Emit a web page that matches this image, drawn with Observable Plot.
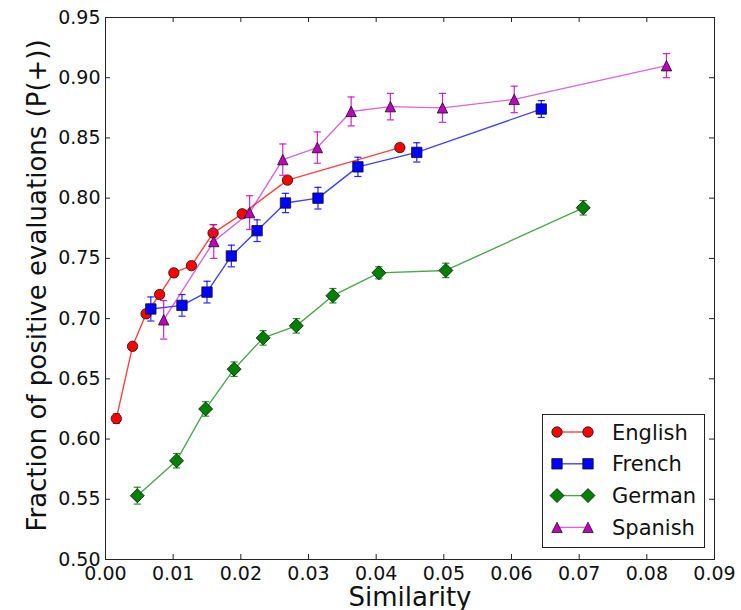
<!DOCTYPE html>
<html><head><meta charset="utf-8">
<script src="https://cdn.jsdelivr.net/npm/d3@7"></script>
<script src="https://cdn.jsdelivr.net/npm/@observablehq/plot@0.6"></script>
<style>
body{margin:0;background:#fff;font-family:"DejaVu Sans",sans-serif}
#wrap{position:relative;width:741px;height:610px}
#legend{position:absolute;left:542px;top:414px;width:163px;height:134px;box-sizing:border-box;border:1px solid #222;background:#fff}
</style>
</head><body><div id="wrap"></div>
<script>
const languages = ["English", "French", "German", "Spanish"];
const colors = ["#ff0000", "#0000ff", "#008000", "#bf00bf"];

const englishX = [0.0016, 0.0040, 0.0060, 0.0080, 0.0101, 0.0127, 0.0159, 0.0202, 0.0269, 0.0435];
const englishY = [0.617, 0.677, 0.704, 0.720, 0.738, 0.744, 0.771, 0.787, 0.815, 0.842];
const englishErr = [0.004, 0.003, 0.003, 0.003, 0.003, 0.003, 0.007, 0.003, 0.003, 0.003];

const frenchX = [0.0067, 0.0113, 0.0150, 0.0186, 0.0224, 0.0266, 0.0314, 0.0373, 0.0460, 0.0644];
const frenchY = [0.708, 0.711, 0.722, 0.752, 0.773, 0.796, 0.800, 0.826, 0.838, 0.874];
const frenchErr = [0.010, 0.009, 0.009, 0.009, 0.009, 0.008, 0.009, 0.008, 0.008, 0.007];

const germanX = [0.0047, 0.0105, 0.0148, 0.0190, 0.0233, 0.0282, 0.0336, 0.0404, 0.0503, 0.0706];
const germanY = [0.553, 0.582, 0.625, 0.658, 0.684, 0.694, 0.719, 0.738, 0.740, 0.792];
const germanErr = [0.007, 0.006, 0.006, 0.006, 0.006, 0.006, 0.006, 0.005, 0.006, 0.006];

const spanishX = [0.0086, 0.0160, 0.0213, 0.0262, 0.0313, 0.0363, 0.0421, 0.0498, 0.0604, 0.0829];
const spanishY = [0.699, 0.764, 0.788, 0.832, 0.842, 0.872, 0.876, 0.875, 0.882, 0.910];
const spanishErr = [0.016, 0.014, 0.014, 0.013, 0.013, 0.012, 0.011, 0.012, 0.011, 0.010];

const xTicks = [0, 0.01, 0.02, 0.03, 0.04, 0.05, 0.06, 0.07, 0.08, 0.09];
const yTicks = [0.50, 0.55, 0.60, 0.65, 0.70, 0.75, 0.80, 0.85, 0.90, 0.95];
const xLabel = "Similarity";
const yLabel = "Fraction of positive evaluations (P(+))";

// matplotlib-like marker shapes (h = half size)
const mk = f => ({draw(ctx, size) { const h = Math.sqrt(size / Math.PI); f(ctx, h); }});
const symCircle = mk((c, h) => { c.moveTo(h, 0); c.arc(0, 0, h, 0, 2 * Math.PI); c.closePath(); });
const symSquare = mk((c, h) => { c.moveTo(-h, -h); c.lineTo(h, -h); c.lineTo(h, h); c.lineTo(-h, h); c.closePath(); });
const symDiamond = mk((c, h) => { c.moveTo(0, -h); c.lineTo(h, 0); c.lineTo(0, h); c.lineTo(-h, 0); c.closePath(); });
const symTriangle = mk((c, h) => { c.moveTo(0, -h); c.lineTo(h, h); c.lineTo(-h, h); c.closePath(); });
const symCap = mk((c, h) => { c.moveTo(-h, 0); c.lineTo(h, 0); });

const series = [
  {name: languages[0], color: colors[0], xs: englishX, ys: englishY, es: englishErr, sym: symCircle, r: 5.2, lineOp: 0.75},
  {name: languages[1], color: colors[1], xs: frenchX, ys: frenchY, es: frenchErr, sym: symSquare, r: 5.2, lineOp: 0.75},
  {name: languages[2], color: colors[2], xs: germanX, ys: germanY, es: germanErr, sym: symDiamond, r: 7, lineOp: 0.7},
  {name: languages[3], color: colors[3], xs: spanishX, ys: spanishY, es: spanishErr, sym: symTriangle, r: 5.2, lineOp: 0.6}
];
series.forEach(s => { s.rows = s.xs.map((x, i) => ({x, y: s.ys[i], e: s.es[i]})); });

const W = 741, H = 610, mL = 105, mR = 27, mT = 17, mB = 51;
const innerW = W - mL - mR, innerH = H - mT - mB, tl = 5;

const marks = [];
for (const s of series) {
  marks.push(Plot.line(s.rows, {x: "x", y: "y", stroke: s.color, strokeWidth: 1.4, strokeOpacity: s.lineOp}));
  marks.push(Plot.ruleX(s.rows, {x: "x", y1: d => d.y - d.e, y2: d => d.y + d.e, stroke: s.color, strokeWidth: 1.2, strokeOpacity: 0.85}));
  marks.push(Plot.dot(s.rows, {x: "x", y: d => d.y - d.e, symbol: symCap, r: 3.6, fill: "none", stroke: s.color, strokeWidth: 1.2, strokeOpacity: 0.85}));
  marks.push(Plot.dot(s.rows, {x: "x", y: d => d.y + d.e, symbol: symCap, r: 3.6, fill: "none", stroke: s.color, strokeWidth: 1.2, strokeOpacity: 0.85}));
  marks.push(Plot.dot(s.rows, {x: "x", y: "y", symbol: s.sym, r: s.r, fill: s.color, stroke: "#111", strokeWidth: 0.8}));
}

const chart = Plot.plot({
  width: W, height: H,
  marginLeft: mL, marginRight: mR, marginTop: mT, marginBottom: mB,
  style: {fontFamily: "DejaVu Sans, sans-serif", color: "#111", background: "#fff"},
  x: {domain: [0, 0.09]},
  y: {domain: [0.5, 0.95]},
  marks: [
    ...marks,
    Plot.tickX(xTicks, {x: d => d, insetTop: innerH - tl, stroke: "#222"}),
    Plot.tickX(xTicks, {x: d => d, insetBottom: innerH - tl, stroke: "#222"}),
    Plot.tickY(yTicks, {y: d => d, insetRight: innerW - tl, stroke: "#222"}),
    Plot.tickY(yTicks, {y: d => d, insetLeft: innerW - tl, stroke: "#222"}),
    Plot.axisX({ticks: xTicks, tickFormat: d3.format(".2f"), tickSize: 0, tickPadding: 7, fontSize: 19, label: null}),
    Plot.axisY({ticks: yTicks, tickFormat: d3.format(".2f"), tickSize: 0, tickPadding: 5, fontSize: 19, label: null}),
    Plot.text([xLabel], {frameAnchor: "bottom", textAnchor: "middle", lineAnchor: "bottom", dy: 46, fontSize: 26, fill: "#111"}),
    Plot.text([yLabel], {frameAnchor: "left", textAnchor: "middle", rotate: -90, lineAnchor: "middle", dx: -68, dy: -3, fontSize: 26, fill: "#111"}),
    Plot.frame({stroke: "#222", strokeWidth: 1})
  ]
});
const wrap = document.getElementById("wrap");
wrap.appendChild(chart);

// legend
const leg = document.createElement("div");
leg.id = "legend";
wrap.appendChild(leg);
const svg = d3.select(leg).append("svg").attr("width", 161).attr("height", 132);
const path = (sym, r) => { const p = d3.path(); sym.draw(p, Math.PI * r * r); return p.toString(); };
series.forEach((s, i) => {
  const y = 17 + i * 31.8;
  const g = svg.append("g");
  g.append("line").attr("x1", 14).attr("x2", 45).attr("y1", y).attr("y2", y)
    .attr("stroke", s.color).attr("stroke-width", 1.4).attr("stroke-opacity", s.lineOp);
  for (const cx of [14, 45]) {
    g.append("path").attr("d", path(s.sym, s.r)).attr("transform", `translate(${cx},${y})`)
      .attr("fill", s.color).attr("stroke", "#111").attr("stroke-width", 0.8);
  }
  g.append("text").attr("x", 69).attr("y", y).attr("dy", "0.36em")
    .attr("font-size", 21).attr("fill", "#111").attr("font-family", "DejaVu Sans, sans-serif").text(s.name);
});
</script>
</body></html>
